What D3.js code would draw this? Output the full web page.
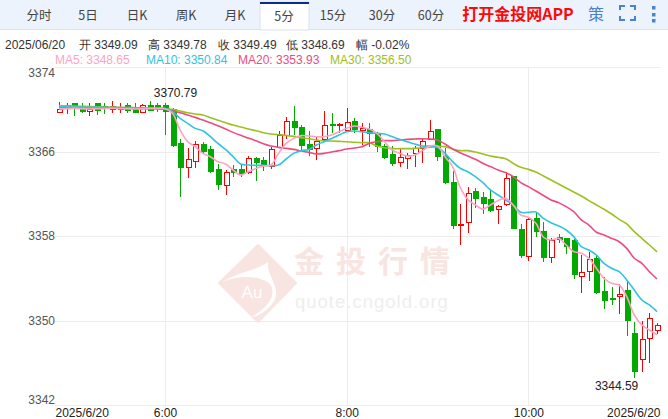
<!DOCTYPE html>
<html>
<head>
<meta charset="utf-8">
<script src="https://cdn.jsdelivr.net/npm/d3@7"></script>
<style>
html, body { margin: 0; padding: 0; background: #fff; overflow: hidden; }
text { font-family: "Liberation Sans", Arial, sans-serif; }
.cjk { font-family: "Noto Sans CJK SC", "Noto Sans", sans-serif; }
</style>
</head>
<body>
<div id="chart"></div>
<script>
// values, one entry per 5 minute candle
var opens = [3369.71,3370.08,3370.56,3370.08,3369.80,3370.56,3370.24,3369.93,3369.99,3370.31,
    3369.93,3369.71,3370.40,3370.40,3370.31,3369.93,3366.77,3364.47,3365.03,3366.71,
    3366.23,3364.25,3362.76,3364.25,3364.25,3364.00,3365.35,3365.19,3364.56,3366.39,
    3367.53,3368.85,3368.29,3366.68,3366.27,3367.09,3368.54,3368.47,3368.03,3368.85,
    3368.03,3368.13,3367.66,3366.46,3365.67,3364.98,3365.35,3365.83,3366.30,3367.18,
    3368.04,3365.51,3363.11,3359.01,3359.29,3362.26,3361.60,3361.50,3360.53,3360.97,
    3363.68,3358.66,3356.06,3359.61,3358.38,3355.95,3357.88,3357.81,3357.56,3354.15,
    3354.66,3355.89,3352.70,3352.13,3352.29,3352.83,3348.79,3346.32,3348.31,3349.09];
var highs = [3370.65,3370.56,3370.62,3370.62,3370.56,3370.62,3370.56,3370.78,3370.56,3370.56,
    3370.56,3370.49,3370.79,3370.56,3370.56,3370.08,3367.15,3366.30,3367.02,3366.87,
    3366.52,3364.81,3364.25,3364.72,3364.81,3365.57,3365.51,3365.51,3366.39,3367.94,
    3369.30,3370.31,3368.50,3367.97,3367.40,3369.83,3369.61,3368.73,3370.08,3369.14,
    3368.66,3368.73,3367.88,3366.71,3366.52,3366.30,3365.89,3366.52,3367.25,3368.98,
    3368.04,3366.30,3364.15,3361.00,3362.61,3362.51,3362.13,3362.45,3360.94,3364.09,
    3363.68,3359.11,3359.77,3360.31,3359.36,3357.78,3358.19,3357.84,3357.72,3356.20,
    3356.52,3356.20,3354.15,3353.14,3353.43,3353.84,3349.89,3349.99,3350.68,3349.78];
var lows = [3369.71,3369.55,3369.39,3369.67,3369.39,3369.45,3369.55,3369.61,3369.67,3369.61,
    3369.61,3369.67,3369.83,3369.77,3367.56,3366.39,3361.72,3363.46,3364.47,3365.76,
    3363.93,3362.35,3361.88,3363.55,3363.55,3363.87,3363.24,3364.15,3364.31,3366.30,
    3367.15,3367.56,3366.14,3365.57,3365.19,3366.93,3367.72,3367.78,3367.87,3367.72,
    3366.61,3366.45,3365.98,3365.26,3364.63,3364.57,3364.34,3364.50,3364.88,3367.09,
    3365.13,3362.89,3358.66,3357.15,3358.25,3360.68,3360.05,3360.30,3359.14,3360.84,
    3358.69,3355.95,3355.63,3357.94,3355.57,3355.48,3357.37,3356.30,3353.96,3352.64,
    3353.74,3352.51,3351.12,3351.47,3350.62,3348.57,3344.59,3345.16,3345.95,3348.69];
var closes = [3369.99,3370.31,3370.31,3369.77,3369.93,3369.86,3370.08,3370.24,3370.08,3369.86,
    3369.67,3370.31,3369.86,3370.18,3369.77,3366.61,3364.47,3365.26,3366.71,3366.04,
    3364.09,3362.83,3364.02,3364.00,3363.87,3365.35,3365.00,3364.72,3366.20,3367.50,
    3368.85,3368.25,3366.61,3366.20,3366.96,3368.47,3368.47,3368.54,3368.76,3368.10,
    3368.19,3367.72,3366.46,3365.42,3364.82,3365.45,3365.61,3366.24,3366.93,3367.88,
    3365.51,3363.05,3358.98,3359.10,3362.04,3361.53,3361.03,3360.40,3360.78,3363.46,
    3358.69,3356.11,3359.52,3358.38,3355.95,3357.62,3357.69,3356.99,3354.31,3354.56,
    3355.79,3352.64,3351.88,3352.07,3352.48,3349.99,3345.16,3348.22,3350.21,3349.49];

var ma5 = [3370.02,3370.05,3370.08,3370.05,3370.02,3370.05,3370.05,3370.08,3370.05,3370.05,
    3370.02,3370.05,3370.08,3370.08,3370.05,3369.61,3368.03,3366.93,3366.45,3365.82,
    3365.51,3365.03,3364.81,3364.25,3363.77,3364.09,3364.40,3364.62,3364.72,3365.82,
    3366.77,3367.24,3367.50,3367.47,3367.40,3367.40,3367.56,3367.87,3368.19,3368.41,
    3368.29,3368.13,3367.72,3366.93,3366.14,3365.83,3365.57,3365.67,3366.08,3366.52,
    3366.52,3365.51,3364.57,3362.61,3361.47,3360.94,3360.56,3360.94,3361.35,3361.57,
    3360.94,3359.99,3359.77,3359.20,3357.88,3357.62,3357.78,3357.15,3356.52,3356.36,
    3355.89,3354.94,3353.99,3353.52,3353.36,3352.26,3350.52,3349.58,3349.10,3348.65];
var ma10 = [3370.22,3370.22,3370.20,3370.20,3370.18,3370.18,3370.18,3370.16,3370.16,3370.16,
    3370.14,3370.14,3370.12,3370.10,3370.08,3369.77,3369.14,3368.66,3368.19,3367.97,
    3367.40,3366.77,3366.20,3365.51,3364.81,3364.72,3364.69,3364.69,3364.66,3364.72,
    3365.29,3365.82,3366.08,3366.20,3366.61,3366.93,3367.24,3367.56,3367.87,3367.94,
    3367.87,3367.78,3367.72,3367.66,3367.41,3367.15,3366.93,3366.71,3366.52,3366.52,
    3366.40,3365.83,3365.04,3364.41,3364.09,3363.62,3363.05,3362.36,3361.88,3361.41,
    3360.94,3360.24,3360.24,3360.27,3359.67,3359.26,3358.95,3358.57,3357.94,3356.99,
    3356.68,3356.20,3355.41,3354.94,3354.62,3353.84,3352.89,3351.94,3351.47,3350.84];
var ma20 = [3370.14,3370.14,3370.12,3370.12,3370.12,3370.10,3370.10,3370.10,3370.08,3370.08,
    3370.08,3370.06,3370.06,3370.04,3370.02,3369.86,3369.67,3369.45,3369.23,3368.98,
    3368.73,3368.44,3368.13,3367.81,3367.53,3367.28,3367.02,3366.74,3366.52,3366.39,
    3366.30,3366.20,3366.04,3365.92,3365.76,3365.82,3365.95,3366.08,3366.23,3366.33,
    3366.45,3366.77,3366.93,3367.03,3367.03,3367.09,3367.15,3367.18,3367.21,3367.18,
    3367.09,3366.71,3366.24,3365.89,3365.57,3365.26,3364.88,3364.57,3364.25,3364.00,
    3363.62,3363.05,3362.67,3362.26,3361.83,3361.41,3361.16,3360.78,3360.31,3359.52,
    3359.04,3358.35,3358.10,3357.78,3357.46,3356.83,3355.89,3355.41,3354.62,3353.93];
var ma30 = [3370.34,3370.32,3370.30,3370.28,3370.26,3370.24,3370.22,3370.20,3370.18,3370.16,
    3370.14,3370.12,3370.08,3370.05,3370.02,3369.99,3369.83,3369.67,3369.55,3369.45,
    3369.20,3368.95,3368.73,3368.50,3368.32,3368.13,3367.97,3367.78,3367.65,3367.59,
    3367.53,3367.43,3367.31,3367.21,3367.09,3367.02,3366.99,3366.96,3366.93,3366.87,
    3366.83,3366.83,3366.52,3366.36,3366.27,3366.27,3366.27,3366.30,3366.36,3366.40,
    3366.46,3366.46,3366.24,3366.08,3366.08,3365.95,3365.76,3365.57,3365.45,3365.32,
    3364.88,3364.50,3364.31,3364.06,3363.68,3363.30,3362.92,3362.54,3362.17,3361.79,
    3361.35,3360.94,3360.53,3360.08,3359.58,3359.14,3358.41,3357.78,3357.15,3356.50];

var priceTicks = [3342, 3350, 3358, 3366, 3374];
var timeTicks = [0, 14, 38, 62, 79];
var timeLabels = ["2025/6/20", "6:00", "8:00", "10:00", "2025/6/20"];
var tabs = ["分时", "5日", "日K", "周K", "月K", "5分", "15分", "30分", "60分"];
var maNames = ["MA5", "MA10", "MA20", "MA30"];
var maLast = ["3348.65", "3350.84", "3353.93", "3356.50"];
var infoParts = ["2025/06/20", "开 3349.09", "高 3349.78", "收 3349.49", "低 3348.69", "幅 -0.02%"];

var width = 668, height = 419;
var RED = "#fb0000", GREEN = "#03a803";
var maColors = ["#ffa3c0", "#2fc4df", "#ee4b7e", "#9dc021"];

var svg = d3.select("#chart").append("svg")
    .attr("width", width)
    .attr("height", height)
    .style("display", "block");

// toolbar
svg.append("rect").attr("width", width).attr("height", 29.5).attr("fill", "#edf3fc");
svg.append("line").attr("x1", 0).attr("x2", width).attr("y1", 29.5).attr("y2", 29.5).attr("stroke", "#d9e3f2");
svg.append("rect").attr("x", 260).attr("y", 2).attr("width", 49).attr("height", 28).attr("fill", "#fff").attr("stroke", "#d9e3f2");
svg.append("rect").attr("x", 260).attr("y", 2).attr("width", 49).attr("height", 2).attr("fill", "#0b2e8c");

var tabX = d3.scalePoint().domain(tabs).range([39, 431]);
svg.selectAll(".tab")
    .data(tabs)
    .enter()
    .append("text")
    .attr("class", "tab cjk")
    .attr("x", function (d) { return tabX(d); })
    .attr("y", function (d) { return d === "5分" ? 21 : 20; })
    .attr("text-anchor", "middle")
    .attr("font-size", 12.5)
    .attr("fill", "#444")
    .text(function (d) { return d; });

svg.append("text").attr("class", "cjk")
    .attr("x", 518).attr("y", 20)
    .attr("text-anchor", "middle")
    .attr("font-size", 16).attr("font-weight", "bold")
    .attr("fill", "#fb0a0a")
    .text("打开金投网APP");
svg.append("text").attr("class", "cjk")
    .attr("x", 596).attr("y", 20)
    .attr("text-anchor", "middle")
    .attr("font-size", 16)
    .attr("fill", "#4a82cc")
    .text("策");

// fullscreen corners and the menu dots
svg.append("path")
    .attr("d", "M620 10V6H625 M630 6H635V10 M635 16V20H630 M625 20H620V16")
    .attr("fill", "none").attr("stroke", "#4a82cc").attr("stroke-width", 2);
svg.selectAll(".dot")
    .data([7, 14, 20])
    .enter()
    .append("rect")
    .attr("class", "dot")
    .attr("x", 652).attr("y", function (d) { return d - 1; })
    .attr("width", 3.5).attr("height", 3.5)
    .attr("fill", "#4a82cc");

// info rows
var infoX = [5, 79, 148, 218, 286, 356];
svg.selectAll(".info")
    .data(infoParts)
    .enter()
    .append("text")
    .attr("class", "info")
    .attr("x", function (d, i) { return infoX[i]; })
    .attr("y", 49)
    .attr("font-size", 12)
    .attr("fill", "#333")
    .text(function (d) { return d; });

var legendX = [55, 146, 238, 330];
svg.selectAll(".maLegend")
    .data(maNames)
    .enter()
    .append("text")
    .attr("class", "maLegend")
    .attr("x", function (d, i) { return legendX[i]; })
    .attr("y", 64)
    .attr("font-size", 12)
    .attr("fill", function (d, i) { return maColors[i]; })
    .text(function (d, i) { return d + ": " + maLast[i]; });

// scales
var x = d3.scaleLinear().domain([0, 79]).range([59, 657]);
var y = d3.scaleLinear().domain([3342, 3374]).range([405, 67]);

// grid
var yAxis = d3.axisLeft(y).tickValues(priceTicks).tickSize(-605).tickFormat(d3.format("d"));
var gy = svg.append("g").attr("transform", "translate(55,0)").call(yAxis);
gy.select(".domain").remove();
gy.selectAll("line").attr("stroke", "#ececec").attr("shape-rendering", "crispEdges");
gy.selectAll("text")
    .attr("x", 0)
    .attr("text-anchor", "end")
    .attr("font-size", 12)
    .attr("fill", "#555")
    .attr("dy", function (d) { return d === 3374 ? "0.8em" : d === 3342 ? "-0.12em" : "0.32em"; });

var xAxis = d3.axisBottom(x).tickValues(timeTicks).tickSize(-338)
    .tickFormat(function (d, i) { return timeLabels[i]; });
var gx = svg.append("g").attr("transform", "translate(0,405)").call(xAxis);
gx.select(".domain").remove();
gx.selectAll("line")
    .attr("stroke", "#ececec")
    .attr("shape-rendering", "crispEdges")
    .style("display", function (d, i) { return (i === 0 || i === 4) ? "none" : null; });
gx.selectAll("text")
    .attr("y", 3)
    .attr("dy", "0.72em")
    .attr("font-size", 12)
    .attr("fill", "#222")
    .attr("text-anchor", function (d, i) { return i === 0 ? "start" : i === 4 ? "end" : "middle"; })
    .attr("dx", function (d, i) { return i === 0 ? -4 : i === 4 ? 3 : 0; });

// watermark
var mark = svg.append("g");
mark.append("path")
    .attr("d", "M258 245L296 283L258 322L219 283Z")
    .attr("fill", "#f8e4e1").attr("stroke", "#f8e4e1").attr("stroke-width", 2).attr("stroke-linejoin", "round");
mark.append("path")
    .attr("d", "M222 282C238 272 258 270 268 262C266 276 284 290 272 304C266 312 258 316 252 317C266 308 278 296 270 284C262 276 240 274 222 282Z")
    .attr("fill", "#fff");
mark.append("text")
    .attr("x", 252).attr("y", 298)
    .attr("text-anchor", "middle").attr("font-size", 17)
    .attr("fill", "#fff").text("Au");
mark.append("text").attr("class", "cjk")
    .attr("x", 294).attr("y", 272)
    .attr("font-size", 30).attr("font-weight", "bold")
    .attr("letter-spacing", 12)
    .attr("fill", "#f8e4e1").text("金投行情");
mark.append("text")
    .attr("x", 295).attr("y", 308)
    .attr("font-size", 18.5).attr("letter-spacing", 1)
    .attr("fill", "#eeeeee").text("quote.cngold.org");

// candles
var candleData = d3.range(opens.length).map(function (i) {
    return { i: i, o: opens[i], h: highs[i], l: lows[i], c: closes[i] };
});
function color(d) { return d.c >= d.o ? RED : GREEN; }

var candles = svg.append("g").selectAll("g")
    .data(candleData)
    .enter()
    .append("g")
    .attr("shape-rendering", "crispEdges");
candles.append("line")
    .attr("x1", function (d) { return Math.round(x(d.i)) + 0.5; })
    .attr("x2", function (d) { return Math.round(x(d.i)) + 0.5; })
    .attr("y1", function (d) { return y(d.h); })
    .attr("y2", function (d) { return y(d.l); })
    .attr("stroke", color);
candles.append("rect")
    .attr("x", function (d) { return Math.round(x(d.i)) - 2 ; })
    .attr("y", function (d) { return y(Math.max(d.o, d.c)); })
    .attr("width", 5)
    .attr("height", function (d) { return Math.max(1, Math.abs(y(d.o) - y(d.c))); })
    .attr("fill", function (d) { return d.c >= d.o ? "#fff" : GREEN; })
    .attr("stroke", color);

// moving averages, MA5 goes on top
var line = d3.line()
    .x(function (d, i) { return x(i); })
    .y(function (d) { return y(d); })
    .curve(d3.curveCatmullRom);
[[ma30, 3], [ma20, 2], [ma10, 1], [ma5, 0]].forEach(function (s) {
    svg.append("path")
        .attr("d", line(s[0]))
        .attr("fill", "none")
        .attr("stroke", maColors[s[1]])
        .attr("stroke-width", 1.6);
});

// high and low notes
svg.append("text")
    .attr("x", x(12) + 4).attr("y", y(3370.79) - 4)
    .attr("font-size", 12).attr("fill", "#222").text("3370.79");
svg.append("text")
    .attr("x", x(76) + 4).attr("y", y(3344.59) + 12)
    .attr("text-anchor", "end")
    .attr("font-size", 12).attr("fill", "#222").text("3344.59");
</script>
</body>
</html>
